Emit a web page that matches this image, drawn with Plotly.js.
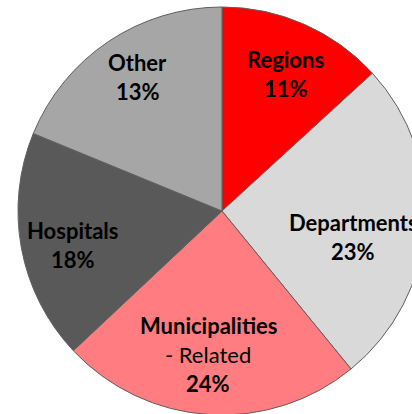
<!DOCTYPE html>
<html><head><meta charset="utf-8">
<script src="https://cdn.plot.ly/plotly-3.0.1.min.js"></script>
<style>html,body{margin:0;padding:0;overflow:hidden;background:#fff;width:412px;height:414px}</style>
</head><body><div id="chart"></div>
<script>
const categories = ["Regions", "Departments", "Municipalities - Related", "Hospitals", "Other"];
const shares = [13.2, 25.9, 23.9, 18.2, 18.8];
const shownPct = [11, 23, 24, 18, 13];
const labelLines = [["<b>Regions</b>"], ["<b>Departments</b>"], ["<b>Municipalities</b>", "- Related"], ["<b>Hospitals</b>"], ["<b>Other</b>"]];
const colors = ["#FF0000", "#D9D9D9", "#FF7C80", "#595959", "#A6A6A6"];

// layout of the pie and its labels (pixels / fractions of the radius)
const W = 440, H = 420;
const CX = 222, CY = 211, R = 204;
const labelRadius = [0.74, 0.655, 0.705, 0.75, 0.775];
const labelAngleShift = [1.3, 7.1, 1.7, -2.5, 1.6];
const LINE = 29;
const FONT = "Lato, 'Open Sans', sans-serif";

const total = shares.reduce((a, b) => a + b, 0);
const annotations = [];
let acc = 0;
shares.forEach((v, i) => {
  const mid = (acc + v / 2) / total * 360 + labelAngleShift[i];
  acc += v;
  const a = mid * Math.PI / 180;
  const r = labelRadius[i] * R;
  const px = CX + r * Math.sin(a);
  const py = CY - r * Math.cos(a);
  const lines = labelLines[i].concat(["<b>" + shownPct[i] + "%</b>"]);
  lines.forEach((t, k) => {
    annotations.push({
      xref: "paper", yref: "paper",
      x: px / W, y: (H - py) / H,
      xanchor: "center", yanchor: "middle",
      yshift: -(k - (lines.length - 1) / 2) * LINE,
      text: t, showarrow: false,
      font: {family: FONT, size: 22, color: "#000"}
    });
  });
});

Plotly.newPlot("chart", [{
  type: "pie",
  labels: categories,
  values: shares,
  textinfo: "none",
  sort: false,
  direction: "clockwise",
  rotation: 0,
  marker: {colors: colors, line: {color: "#5f5f5f", width: 1}},
  hoverinfo: "skip",
  domain: {x: [(CX - R) / W, (CX + R) / W], y: [(H - CY - R) / H, (H - CY + R) / H]}
}], {
  width: W, height: H,
  margin: {l: 0, r: 0, t: 0, b: 0},
  showlegend: false,
  paper_bgcolor: "#fff",
  annotations: annotations
}, {staticPlot: true});
</script></body></html>
